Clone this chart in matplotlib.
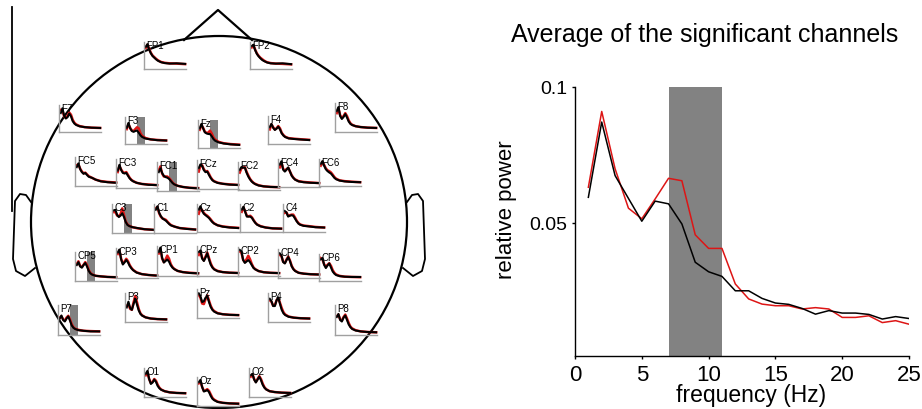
import matplotlib
matplotlib.use("Agg")
import matplotlib.pyplot as plt
from matplotlib.patches import Ellipse

plt.rcParams['font.family'] = ['Liberation Sans', 'DejaVu Sans']

W, H = 922, 410

# ---------------- main chart data ----------------
freq = list(range(1, 26))
black_avg = [0.0594, 0.0871, 0.0674, 0.0590, 0.0506, 0.0580, 0.0570, 0.0496, 0.0355, 0.0320,
             0.0303, 0.0250, 0.0250, 0.0222, 0.0205, 0.0200, 0.0185, 0.0164, 0.0177, 0.0168,
             0.0168, 0.0163, 0.0146, 0.0155, 0.0148]
red_avg = [0.0631, 0.0910, 0.0699, 0.0554, 0.0515, 0.0588, 0.0664, 0.0655, 0.0456, 0.0406,
           0.0406, 0.0275, 0.0220, 0.0201, 0.0195, 0.0195, 0.0183, 0.0188, 0.0183, 0.0152,
           0.0152, 0.0158, 0.0133, 0.0140, 0.0127]
band = (7, 11)
xticks = [0, 5, 10, 15, 20, 25]
yticks = [0.05, 0.1]
ytick_labels = ['0.05', '0.1']
title = 'Average of the significant channels'
xlabel = 'frequency (Hz)'
ylabel = 'relative power'

# ---------------- inset (channel) data ----------------
inset_freq = [1, 2, 3, 4, 5, 6, 7, 8, 9, 10, 12, 15, 19, 24]
channels = ['FP1', 'FP2', 'F7', 'F3', 'Fz', 'F4', 'F8',
            'FC5', 'FC3', 'FC1', 'FCz', 'FC2', 'FC4', 'FC6',
            'C3', 'C1', 'Cz', 'C2', 'C4',
            'CP5', 'CP3', 'CP1', 'CPz', 'CP2', 'CP4', 'CP6',
            'P7', 'P3', 'Pz', 'P4', 'P8',
            'O1', 'Oz', 'O2']
significant = ['F3', 'Fz', 'FC1', 'C3', 'CP5', 'P7']
inset_black = [
    [.82, .92, .72, .58, .48, .42, .36, .31, .28, .25, .22, .20, .21, .19],  # FP1
    [.85, .90, .70, .56, .47, .40, .34, .30, .27, .24, .21, .20, .21, .18],  # FP2
    [.70, .88, .60, .50, .55, .68, .58, .40, .31, .26, .21, .18, .16, .15],  # F7
    [.60, .78, .58, .48, .45, .48, .50, .42, .32, .26, .20, .17, .14, .13],  # F3
    [.70, .86, .70, .56, .52, .50, .50, .42, .32, .26, .20, .16, .13, .11],  # Fz
    [.60, .72, .58, .50, .55, .62, .52, .38, .30, .25, .20, .18, .16, .14],  # F4
    [.72, .86, .55, .45, .52, .62, .50, .36, .28, .24, .20, .17, .15, .14],  # F8
    [.65, .78, .58, .48, .42, .45, .38, .32, .30, .28, .22, .16, .13, .11],  # FC5
    [.60, .80, .62, .52, .50, .52, .42, .33, .27, .23, .18, .14, .11, .10],  # FC3
    [.65, .78, .62, .52, .48, .46, .42, .35, .28, .23, .18, .14, .11, .09],  # FC1
    [.72, .85, .80, .65, .58, .60, .48, .38, .30, .26, .21, .18, .15, .14],  # FCz
    [.72, .82, .80, .80, .62, .48, .38, .30, .25, .21, .16, .13, .11, .10],  # FC2
    [.80, .92, .62, .55, .62, .70, .55, .40, .32, .26, .20, .17, .15, .14],  # FC4
    [.82, .92, .75, .62, .55, .50, .46, .38, .30, .25, .20, .17, .15, .14],  # FC6
    [.78, .80, .62, .55, .60, .68, .55, .38, .28, .24, .20, .17, .13, .11],  # C3
    [.80, .92, .70, .58, .50, .46, .42, .36, .30, .26, .22, .17, .14, .12],  # C1
    [.80, .92, .75, .65, .60, .55, .50, .42, .35, .30, .24, .19, .16, .14],  # Cz
    [.80, .90, .72, .55, .55, .55, .50, .40, .32, .26, .20, .16, .13, .12],  # C2
    [.75, .70, .55, .58, .60, .58, .48, .38, .30, .26, .22, .20, .17, .16],  # C4
    [.55, .65, .50, .46, .55, .62, .50, .35, .26, .22, .18, .16, .14, .13],  # CP5
    [.85, .95, .62, .45, .52, .60, .52, .40, .32, .26, .18, .13, .10, .08],  # CP3
    [.80, .95, .60, .45, .50, .55, .48, .36, .28, .23, .17, .13, .10, .09],  # CP1
    [.80, .85, .58, .50, .62, .75, .55, .38, .28, .22, .16, .13, .11, .10],  # CPz
    [.90, .85, .55, .45, .50, .55, .48, .38, .28, .23, .17, .13, .11, .10],  # CP2
    [.85, .78, .55, .50, .62, .72, .58, .40, .30, .24, .18, .15, .13, .12],  # CP4
    [.80, .85, .60, .48, .58, .65, .50, .35, .27, .22, .18, .16, .15, .15],  # CP6
    [.55, .65, .50, .45, .55, .62, .48, .32, .24, .20, .16, .14, .12, .12],  # P7
    [.50, .70, .48, .42, .62, .80, .60, .40, .28, .22, .16, .12, .10, .09],  # P3
    [.85, .75, .55, .58, .70, .75, .55, .38, .28, .22, .16, .13, .11, .10],  # Pz
    [.80, .72, .55, .55, .75, .85, .62, .42, .30, .24, .18, .15, .13, .12],  # P4
    [.60, .70, .50, .45, .58, .65, .50, .35, .26, .20, .15, .12, .10, .09],  # P8
    [.80, .90, .62, .45, .50, .60, .52, .38, .30, .25, .20, .16, .14, .13],  # O1
    [.82, .90, .65, .50, .52, .55, .48, .35, .25, .20, .14, .11, .09, .08],  # Oz
    [.75, .80, .60, .50, .60, .70, .58, .42, .32, .26, .20, .17, .15, .14],  # O2
]
inset_red = [
    [.78, .90, .75, .60, .50, .44, .38, .33, .29, .26, .23, .21, .20, .18],  # FP1
    [.80, .88, .72, .58, .49, .42, .37, .32, .28, .25, .22, .20, .19, .17],  # FP2
    [.82, .80, .58, .52, .60, .72, .64, .45, .34, .28, .22, .18, .16, .15],  # F7
    [.55, .74, .60, .50, .48, .55, .62, .58, .40, .30, .22, .17, .15, .13],  # F3
    [.65, .82, .72, .58, .54, .55, .62, .52, .38, .30, .22, .17, .14, .12],  # Fz
    [.52, .70, .60, .52, .56, .64, .56, .40, .32, .26, .21, .19, .17, .15],  # F4
    [.65, .82, .58, .48, .55, .65, .55, .40, .30, .25, .20, .17, .15, .14],  # F8
    [.72, .74, .60, .50, .44, .46, .40, .34, .31, .28, .22, .17, .14, .12],  # FC5
    [.55, .76, .64, .55, .52, .55, .45, .35, .28, .24, .18, .14, .12, .10],  # FC3
    [.70, .85, .60, .50, .50, .50, .45, .38, .30, .24, .18, .14, .11, .10],  # FC1
    [.60, .80, .82, .68, .60, .62, .52, .40, .32, .27, .22, .18, .16, .14],  # FCz
    [.62, .78, .80, .82, .65, .52, .40, .32, .26, .22, .17, .13, .11, .10],  # FC2
    [.70, .88, .65, .58, .64, .68, .55, .42, .33, .27, .21, .18, .16, .14],  # FC4
    [.75, .90, .78, .65, .58, .55, .50, .42, .33, .27, .21, .18, .16, .14],  # FC6
    [.72, .72, .60, .58, .65, .85, .62, .40, .30, .25, .20, .16, .13, .11],  # C3
    [.85, .90, .68, .56, .50, .48, .45, .38, .32, .27, .22, .17, .15, .12],  # C1
    [.65, .85, .78, .68, .62, .58, .52, .45, .37, .31, .24, .20, .17, .15],  # Cz
    [.72, .88, .74, .58, .56, .58, .52, .42, .33, .27, .21, .16, .13, .12],  # C2
    [.68, .70, .58, .60, .62, .62, .52, .40, .32, .27, .23, .21, .18, .16],  # C4
    [.58, .68, .52, .48, .56, .65, .55, .38, .28, .23, .18, .16, .14, .13],  # CP5
    [.80, .92, .64, .48, .55, .64, .56, .43, .34, .27, .19, .13, .10, .08],  # CP3
    [.75, .90, .58, .46, .55, .68, .58, .40, .30, .24, .17, .13, .11, .09],  # CP1
    [.70, .82, .60, .52, .65, .78, .60, .42, .30, .23, .17, .13, .11, .10],  # CPz
    [.85, .80, .56, .48, .58, .70, .58, .42, .30, .24, .17, .13, .11, .10],  # CP2
    [.80, .75, .56, .52, .64, .74, .60, .42, .31, .25, .18, .15, .13, .12],  # CP4
    [.85, .80, .62, .52, .60, .66, .56, .40, .30, .24, .19, .16, .15, .14],  # CP6
    [.58, .62, .52, .48, .58, .64, .52, .36, .26, .21, .17, .14, .13, .12],  # P7
    [.55, .62, .45, .42, .68, .90, .68, .45, .30, .23, .16, .12, .10, .09],  # P3
    [.80, .70, .50, .48, .65, .78, .60, .42, .30, .24, .17, .13, .11, .10],  # Pz
    [.75, .70, .56, .58, .75, .82, .66, .48, .34, .26, .19, .15, .13, .12],  # P4
    [.62, .68, .52, .48, .60, .68, .55, .40, .28, .22, .16, .12, .10, .09],  # P8
    [.75, .85, .62, .48, .52, .62, .56, .42, .32, .26, .20, .16, .14, .13],  # O1
    [.78, .85, .66, .52, .54, .58, .52, .40, .28, .22, .15, .11, .09, .08],  # Oz
    [.70, .78, .62, .52, .62, .72, .62, .46, .34, .27, .20, .17, .15, .14],  # O2
]

# layout of the insets in pixels: left, top, bottom
inset_left = [144, 250, 59, 125, 198, 268, 335,
              75, 116, 157, 197, 238, 278, 319,
              112, 154, 197, 240, 283,
              75, 116, 157, 197, 238, 278, 319,
              58, 125, 197, 268, 335,
              144, 197, 249]
inset_top = [43, 43, 106, 118, 121, 117, 104,
             158, 160, 163, 161, 163, 160, 160,
             205, 205, 205, 205, 205,
             253, 249, 247, 247, 248, 250, 255,
             306, 294, 290, 294, 306,
             369, 378, 369]
inset_bottom = [70, 70, 133, 145, 149, 145, 133,
                187, 189, 192, 190, 191, 188, 187,
                234, 234, 233, 233, 233,
                282, 279, 277, 277, 277, 279, 282,
                336, 323, 319, 323, 336,
                398, 407, 398]
INSET_W = 42

RED = '#dd1515'
SHADE = '#828282'

fig = plt.figure(figsize=(W / 100, H / 100), dpi=100)

# ---------------- head outline (pixel coordinates) ----------------
hax = fig.add_axes([0, 0, 1, 1])
hax.set_xlim(0, W)
hax.set_ylim(H, 0)
hax.axis('off')
hax.add_patch(Ellipse((219, 223), 376, 372, fill=False, ec='black', lw=1.6))
hax.plot([184, 218, 252], [41, 11, 41], color='black', lw=1.6)
ear_x = [407, 412, 418, 423, 425, 422, 413, 403]
ear_y = [203, 196, 195, 202, 260, 272, 277, 269]
hax.plot(ear_x, ear_y, color='black', lw=1.3)
hax.plot([2 * 219 - x for x in ear_x], ear_y, color='black', lw=1.3)
hax.plot([12, 12], [8, 212], color='black', lw=1.3)

# ---------------- insets ----------------
for i, name in enumerate(channels):
    l, t, b = inset_left[i], inset_top[i], inset_bottom[i]
    ax = fig.add_axes([l / W, 1 - b / H, INSET_W / W, (b - t) / H])
    ax.set_xlim(0, 24.5)
    ax.set_ylim(0, 1)
    if name in significant:
        ax.axvspan(7, 11.5, color=SHADE, lw=0)
    ax.plot(inset_freq, inset_red[i], color=RED, lw=1.8, clip_on=False)
    ax.plot(inset_freq, inset_black[i], color='black', lw=1.5, clip_on=False)
    for s in ['top', 'right']:
        ax.spines[s].set_visible(False)
    for s in ['left', 'bottom']:
        ax.spines[s].set_color('#a0a0a0')
        ax.spines[s].set_linewidth(1.0)
    ax.set_xticks([])
    ax.set_yticks([])
    ax.patch.set_alpha(0)
    ax.text(0.05, 1.08, name, transform=ax.transAxes, fontsize=7,
            va='top', ha='left', color='black')

# ---------------- main chart ----------------
mx0, mx1, my0, my1 = 575, 909, 88, 357
max_ = fig.add_axes([mx0 / W, 1 - my1 / H, (mx1 - mx0) / W, (my1 - my0) / H])
max_.axvspan(band[0], band[1], color=SHADE, lw=0)
max_.plot(freq, red_avg, color=RED, lw=1.1)
max_.plot(freq, black_avg, color='black', lw=1.1)
max_.set_xlim(0, 25)
max_.set_ylim(0.001, 0.1)
max_.set_xticks(xticks)
max_.set_yticks(yticks)
max_.set_yticklabels(ytick_labels)
for s in ['top', 'right']:
    max_.spines[s].set_visible(False)
for s in ['left', 'bottom']:
    max_.spines[s].set_linewidth(1.0)
max_.tick_params(direction='out', length=2.5, width=1.0)
max_.tick_params(axis='x', labelsize=16, pad=3)
max_.tick_params(axis='y', labelsize=14, pad=3)
max_.set_xlabel(xlabel, fontsize=16.5, va='top', ha='center')
max_.xaxis.set_label_coords((751 - mx0) / (mx1 - mx0), -(384 - my1) / (my1 - my0))
max_.set_ylabel(ylabel, fontsize=16)
max_.yaxis.set_label_coords(-(575 - 517) / (mx1 - mx0), (my1 - 210) / (my1 - my0))
fig.text(705 / W, 1 - 42 / H, title, fontsize=18, ha='center', va='baseline')

fig.savefig('out.png', dpi=100)
